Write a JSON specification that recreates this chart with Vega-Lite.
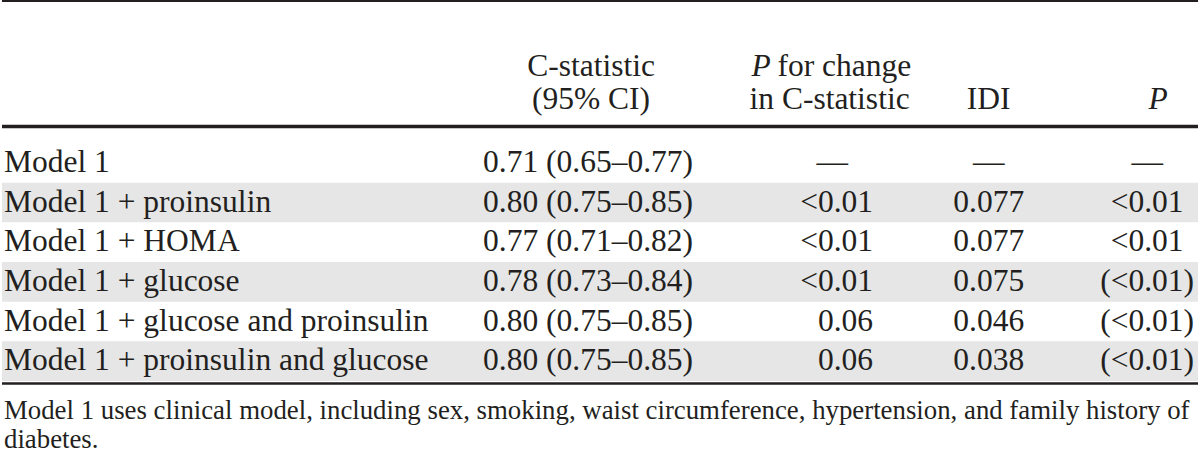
{
  "$schema": "https://vega.github.io/schema/vega-lite/v6.json",
  "width": 1200,
  "height": 458,
  "autosize": {"type": "fit", "contains": "padding"},
  "padding": 0,
  "background": "white",
  "config": {
    "view": {"stroke": null},
    "text": {"font": "Liberation Serif", "fontSize": 31.5, "color": "#231f20", "baseline": "middle"}
  },
  "datasets": {
    "body": [
      {"row": 1, "model": "Model 1", "cstat": "0.71 (0.65–0.77)", "pchange": "—", "idi": "—", "p": "—"},
      {"row": 2, "model": "Model 1 + proinsulin", "cstat": "0.80 (0.75–0.85)", "pchange": "<0.01", "idi": "0.077", "p": "<0.01"},
      {"row": 3, "model": "Model 1 + HOMA", "cstat": "0.77 (0.71–0.82)", "pchange": "<0.01", "idi": "0.077", "p": "<0.01"},
      {"row": 4, "model": "Model 1 + glucose", "cstat": "0.78 (0.73–0.84)", "pchange": "<0.01", "idi": "0.075", "p": "(<0.01)"},
      {"row": 5, "model": "Model 1 + glucose and proinsulin", "cstat": "0.80 (0.75–0.85)", "pchange": "0.06", "idi": "0.046", "p": "(<0.01)"},
      {"row": 6, "model": "Model 1 + proinsulin and glucose", "cstat": "0.80 (0.75–0.85)", "pchange": "0.06", "idi": "0.038", "p": "(<0.01)"}
    ],
    "head": [
      {"piece": "cstat", "line": 1, "text": "C-statistic"},
      {"piece": "cstat", "line": 2, "text": "(95% CI)"},
      {"piece": "pP", "line": 1, "text": "P"},
      {"piece": "pfor", "line": 1, "text": "for change"},
      {"piece": "pin", "line": 2, "text": "in C-statistic"},
      {"piece": "idi", "line": 2, "text": "IDI"},
      {"piece": "p", "line": 2, "text": "P"}
    ],
    "foot": [
      {"line": 1, "text": "Model 1 uses clinical model, including sex, smoking, waist circumference, hypertension, and family history of"},
      {"line": 2, "text": "diabetes."}
    ]
  },
  "resolve": {"scale": {"y": "independent"}},
  "layer": [
    {
      "data": {"name": "body"},
      "encoding": {
        "y": {"field": "row", "type": "ordinal", "scale": {"type": "band", "domain": [1, 2, 3, 4, 5, 6], "range": [143, 381], "paddingInner": 0, "paddingOuter": 0}, "axis": null}
      },
      "layer": [
        {
          "transform": [{"filter": "datum.row % 2 == 0"}],
          "mark": {"type": "rect", "color": "#e6e6e6"},
          "encoding": {
            "x": {"datum": 0, "type": "quantitative", "scale": {"domain": [0, 1200], "nice": false}, "axis": null},
            "x2": {"datum": 1200}
          }
        },
        {
          "mark": {"type": "text", "align": "left"},
          "encoding": {
            "x": {"datum": 2, "type": "quantitative", "scale": {"domain": [0, 1200], "nice": false}, "axis": null},
            "text": {"field": "model"}
          }
        },
        {
          "mark": {"type": "text", "align": "center"},
          "encoding": {
            "x": {"datum": 588, "type": "quantitative", "scale": {"domain": [0, 1200], "nice": false}, "axis": null},
            "text": {"field": "cstat"}
          }
        },
        {
          "transform": [{"filter": "datum.pchange != '—'"}],
          "mark": {"type": "text", "align": "right"},
          "encoding": {
            "x": {"datum": 874, "type": "quantitative", "scale": {"domain": [0, 1200], "nice": false}, "axis": null},
            "text": {"field": "pchange"}
          }
        },
        {
          "transform": [{"filter": "datum.pchange == '—'"}],
          "mark": {"type": "text", "align": "center"},
          "encoding": {
            "x": {"datum": 833, "type": "quantitative", "scale": {"domain": [0, 1200], "nice": false}, "axis": null},
            "text": {"field": "pchange"}
          }
        },
        {
          "mark": {"type": "text", "align": "center"},
          "encoding": {
            "x": {"datum": 990, "type": "quantitative", "scale": {"domain": [0, 1200], "nice": false}, "axis": null},
            "text": {"field": "idi"}
          }
        },
        {
          "mark": {"type": "text", "align": "center"},
          "encoding": {
            "x": {"datum": 1149, "type": "quantitative", "scale": {"domain": [0, 1200], "nice": false}, "axis": null},
            "text": {"field": "p"}
          }
        }
      ]
    },
    {
      "data": {"name": "head"},
      "encoding": {
        "y": {"field": "line", "type": "ordinal", "scale": {"type": "point", "domain": [1, 2], "range": [67, 100], "padding": 0}, "axis": null},
        "text": {"field": "text"}
      },
      "layer": [
        {
          "transform": [{"filter": "datum.piece == 'cstat'"}],
          "mark": {"type": "text", "align": "center"},
          "encoding": {"x": {"datum": 591, "type": "quantitative", "scale": {"domain": [0, 1200], "nice": false}, "axis": null}}
        },
        {
          "transform": [{"filter": "datum.piece == 'pP'"}],
          "mark": {"type": "text", "align": "left", "fontStyle": "italic"},
          "encoding": {"x": {"datum": 752, "type": "quantitative", "scale": {"domain": [0, 1200], "nice": false}, "axis": null}}
        },
        {
          "transform": [{"filter": "datum.piece == 'pfor'"}],
          "mark": {"type": "text", "align": "left"},
          "encoding": {"x": {"datum": 778, "type": "quantitative", "scale": {"domain": [0, 1200], "nice": false}, "axis": null}}
        },
        {
          "transform": [{"filter": "datum.piece == 'pin'"}],
          "mark": {"type": "text", "align": "left"},
          "encoding": {"x": {"datum": 750, "type": "quantitative", "scale": {"domain": [0, 1200], "nice": false}, "axis": null}}
        },
        {
          "transform": [{"filter": "datum.piece == 'idi'"}],
          "mark": {"type": "text", "align": "center"},
          "encoding": {"x": {"datum": 990, "type": "quantitative", "scale": {"domain": [0, 1200], "nice": false}, "axis": null}}
        },
        {
          "transform": [{"filter": "datum.piece == 'p'"}],
          "mark": {"type": "text", "align": "center", "fontStyle": "italic"},
          "encoding": {"x": {"datum": 1160, "type": "quantitative", "scale": {"domain": [0, 1200], "nice": false}, "axis": null}}
        }
      ]
    },
    {
      "data": {"values": [{}]},
      "encoding": {
        "x": {"datum": 0, "type": "quantitative", "scale": {"domain": [0, 1200], "nice": false}, "axis": null},
        "x2": {"datum": 1200}
      },
      "layer": [
        {
          "mark": {"type": "rule", "color": "#231f20", "strokeWidth": 2},
          "encoding": {"y": {"datum": 1, "type": "quantitative", "scale": {"domain": [0, 458], "nice": false, "zero": false, "reverse": true}, "axis": null}}
        },
        {
          "mark": {"type": "rule", "color": "#231f20", "strokeWidth": 3.5},
          "encoding": {"y": {"datum": 126.5, "type": "quantitative"}}
        },
        {
          "mark": {"type": "rule", "color": "#231f20", "strokeWidth": 2.5},
          "encoding": {"y": {"datum": 383.5, "type": "quantitative"}}
        }
      ]
    },
    {
      "data": {"name": "foot"},
      "mark": {"type": "text", "align": "left", "fontSize": 26.8},
      "encoding": {
        "x": {"datum": 2, "type": "quantitative", "scale": {"domain": [0, 1200], "nice": false}, "axis": null},
        "y": {"field": "line", "type": "ordinal", "scale": {"type": "point", "domain": [1, 2], "range": [411, 440], "padding": 0}, "axis": null},
        "text": {"field": "text"}
      }
    }
  ]
}
